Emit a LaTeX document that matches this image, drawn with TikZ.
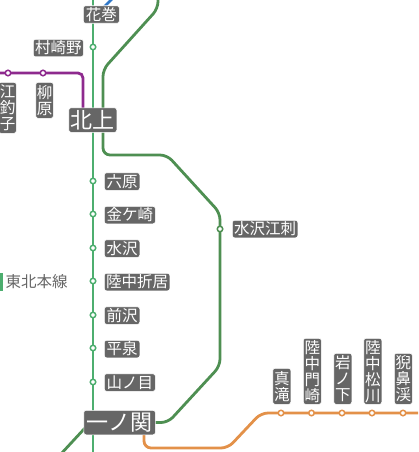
\documentclass[tikz,border=0pt]{standalone}
\usepackage{fontspec}
\setmainfont{Noto Sans CJK JP}
\definecolor{mainG}{HTML}{4DAE6F}
\definecolor{sideG}{HTML}{4E8F52}
\definecolor{purp}{HTML}{8E2A8E}
\definecolor{oran}{HTML}{E39149}
\definecolor{blu}{HTML}{3078C8}
\definecolor{box}{HTML}{666666}
\tikzset{
  line/.style={line width=2.8pt,rounded corners=7pt},
  lab/.style={fill=box,draw=white,line width=.6pt,rounded corners=2.2pt,text=white,inner sep=0pt,anchor=north west,align=center,font=\fontsize{15.5}{16}\selectfont},
  biglab/.style={lab,font=\fontsize{22}{24}\selectfont},
  stn/.style={circle,draw=#1,fill=white,line width=1.5pt,minimum size=5.5pt,inner sep=0pt},
}
\begin{document}
\begin{tikzpicture}[x=1pt,y=-1pt]
\useasboundingbox (0,0) rectangle (418,452);
\clip (0,0) rectangle (418,452);
\coordinate (mT) at (93,-3);
\coordinate (mB) at (93,455);
\coordinate (bA) at (103,8);
\coordinate (bB) at (114,-3);
\coordinate (gT) at (158,-3);
\coordinate (gH) at (103,110);
\coordinate (gI) at (155,422.5);
\coordinate (lA) at (85,428);
\coordinate (lB) at (60,455);
\coordinate (pL) at (-3,73);
\coordinate (pK) at (83,110);
\coordinate (oI) at (144,430);
\coordinate (oR) at (421,413);
\draw[line,blu] (bA) -- (bB);
\draw[line,mainG] (mT) -- (mB);
\draw[line,sideG] (gT) -- (158,8.5) -- (103,69.5) -- (gH);
\draw[line,sideG] (gH) -- (103,155) -- (167,155) -- (220,213) -- (220,366) -- (168,422.5) -- (gI);
\draw[line,sideG] (lA) -- (lB);
\draw[line,purp,rounded corners=5pt] (pL) -- (83,73) -- (pK);
\draw[line,oran] (oI) -- (144,448) -- (228,448) -- (261,413) -- (oR);
% stations
\node[stn=mainG] (sA) at (93,47) {};
\foreach \n/\y in {sB/181,sC/214,sD/248,sE/281,sF/315,sG/348,sH/382}
  \node[stn=mainG] (\n) at (93,\y) {};
\node[stn=sideG] (sI) at (220,229) {};
\node[stn=purp] (sJ) at (8,73) {};
\node[stn=purp] (sK) at (43,73) {};
\foreach \n/\x in {sL/281,sM/311.5,sN/342,sO/372,sP/403}
  \node[stn=oran] (\n) at (\x,413) {};
% labels
\node[lab,minimum width=36pt,minimum height=17.5pt] (hanamaki) at (83,5.5) {花巻};
\node[lab,minimum width=50pt,minimum height=17.5pt] (murasakino) at (33,39) {村崎野};
\node[lab,minimum width=17.5pt,minimum height=51pt] (esashi) at (-1.5,82) {江\\釣\\子};
\node[lab,minimum width=17.5pt,minimum height=36pt] (yanagi) at (35.5,82) {柳\\原};
\node[biglab,minimum width=48pt,minimum height=24.5pt] (kitakami) at (68.5,107.5) {北上};
\node[lab,minimum width=35.5pt,minimum height=17.5pt] (rokuhara) at (104,172.5) {六原};
\node[lab,minimum width=51pt,minimum height=17.5pt] (kanegasaki) at (104,206) {金ケ崎};
\node[lab,minimum width=35.5pt,minimum height=17.5pt] (mizusawa) at (104,239.5) {水沢};
\node[lab,minimum width=65.5pt,minimum height=17.5pt] (orii) at (104,273) {陸中折居};
\node[lab,minimum width=35.5pt,minimum height=17.5pt] (maesawa) at (104,306.5) {前沢};
\node[lab,minimum width=35.5pt,minimum height=17.5pt] (hiraizumi) at (104,340) {平泉};
\node[lab,minimum width=51pt,minimum height=17.5pt] (yamanome) at (104,373.5) {山ノ目};
\node[lab,minimum width=65.5pt,minimum height=17.5pt] (esashist) at (232,220) {水沢江刺};
\node[biglab,minimum width=71.5pt,minimum height=24.5pt] (ichinoseki) at (83.5,410) {一ノ関};
\node[lab,minimum width=18pt,minimum height=36pt] (masaki) at (272.5,368) {真\\滝};
\node[lab,minimum width=18pt,minimum height=66pt] (kado) at (303,338) {陸\\中\\門\\崎};
\node[lab,minimum width=18pt,minimum height=51pt] (iwa) at (333.5,353) {岩\\ノ\\下};
\node[lab,minimum width=18pt,minimum height=66pt] (matsu) at (363.5,338) {陸\\中\\松\\川};
\node[lab,minimum width=18pt,minimum height=51pt] (geibi) at (394,353) {猊\\鼻\\渓};
% legend
\node[fill=mainG,minimum width=3pt,minimum height=18pt,inner sep=0pt] (lgd) at (1,282) {};
\node[anchor=west,inner sep=0pt,text=box,font=\fontsize{15.5}{16}\selectfont] (lgdt) at (5.5,282) {東北本線};
\end{tikzpicture}
\end{document}
